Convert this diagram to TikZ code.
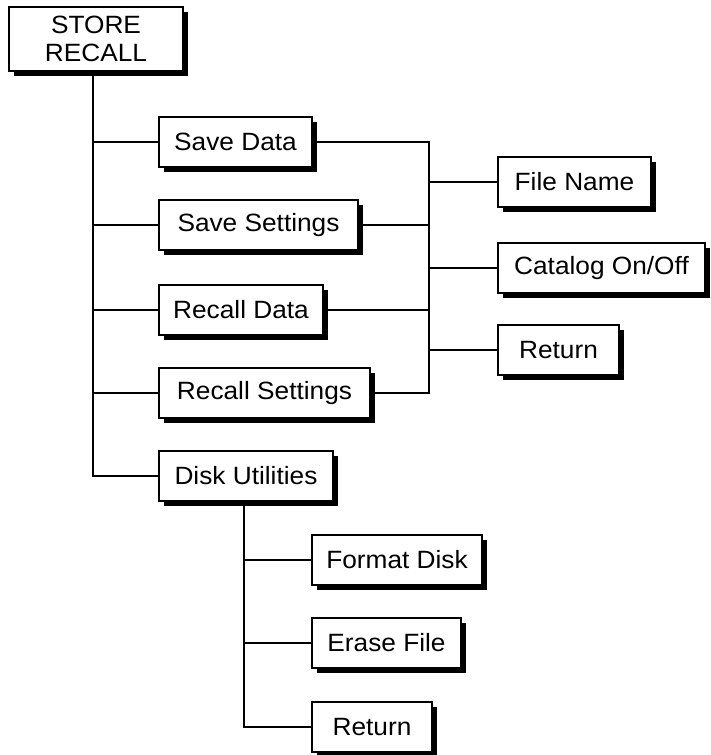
\documentclass[tikz,border=0pt]{standalone}
\usepackage{fontspec}
\setmainfont{Liberation Sans}[FakeStretch=1.05]
\usetikzlibrary{shadows}
\begin{document}
\begin{tikzpicture}[x=1pt,y=-1pt,
  menubox/.style={draw=black, fill=white, line width=1.6pt, minimum height=50pt,
    inner sep=0pt, font=\fontsize{25}{28}\selectfont,
    drop shadow={shadow xshift=5pt, shadow yshift=-5pt, fill=black, opacity=1}},
  conn/.style={line width=1.6pt}]
\useasboundingbox (0,0) rectangle (711,755);
% top
\node[menubox, minimum width=174pt, minimum height=64pt, align=center] (store) at (96,39) {STORE\\RECALL};
% level 1
\node[menubox, minimum width=153pt] (savedata) at (235.5,142) {Save Data};
\node[menubox, minimum width=199pt] (savesettings) at (258.5,225) {Save Settings};
\node[menubox, minimum width=164pt] (recalldata) at (241,310) {Recall Data};
\node[menubox, minimum width=211pt] (recallsettings) at (264.5,393) {Recall Settings};
\node[menubox, minimum width=174pt] (disk) at (246,476) {Disk Utilities};
% right column
\node[menubox, minimum width=153pt] (filename) at (574.5,182) {File Name};
\node[menubox, minimum width=207pt] (catalog) at (601.5,268) {Catalog On/Off};
\node[menubox, minimum width=121pt] (return1) at (558.5,350) {Return};
% disk utilities
\node[menubox, minimum width=170pt] (format) at (397,560) {Format Disk};
\node[menubox, minimum width=149pt] (erase) at (386.5,643) {Erase File};
\node[menubox, minimum width=120pt] (return2) at (372,727) {Return};
% trunk
\coordinate (t0) at (93,71);
\draw[conn] (t0) |- (disk.west);
\foreach \n in {savedata,savesettings,recalldata,recallsettings}
  \draw[conn] (t0 |- \n.west) -- (\n.west);
% right bus
\coordinate (b0) at (429,142);
\draw[conn] (savedata.east) -- (savedata.east -| b0) -- (b0 |- recallsettings.east) -- (recallsettings.east);
\draw[conn] (savesettings.east) -- (savesettings.east -| b0);
\draw[conn] (recalldata.east) -- (recalldata.east -| b0);
\foreach \n in {filename,catalog,return1}
  \draw[conn] (b0 |- \n.west) -- (\n.west);
% disk bus
\coordinate (d0) at (244,500);
\draw[conn] (d0) |- (return2.west);
\foreach \n in {format,erase}
  \draw[conn] (d0 |- \n.west) -- (\n.west);
\end{tikzpicture}
\end{document}
